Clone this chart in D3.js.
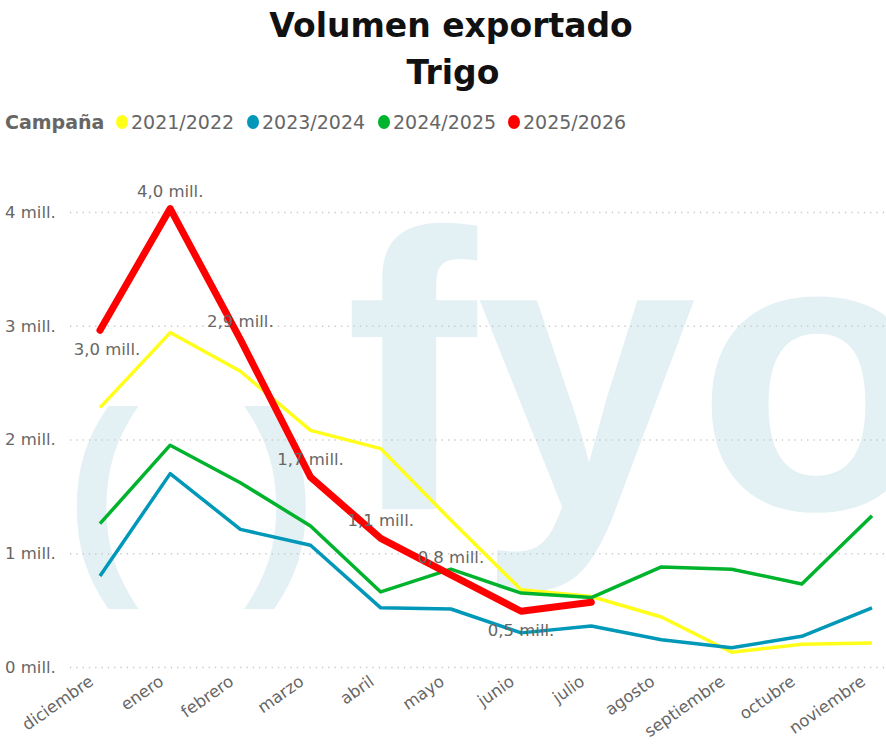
<!DOCTYPE html>
<html>
<head>
<meta charset="utf-8">
<script src="https://cdn.jsdelivr.net/npm/d3@7"></script>
<style>
  html, body { margin: 0; padding: 0; background: #fff; }
  svg { display: block; }
</style>
</head>
<body>
<svg id="chart" width="886" height="749"></svg>
<script>
'use strict';

// Data (millones de toneladas)
const MONTHS = ['diciembre', 'enero', 'febrero', 'marzo', 'abril', 'mayo',
  'junio', 'julio', 'agosto', 'septiembre', 'octubre', 'noviembre'];

const SERIES_NAMES = ['2021/2022', '2023/2024', '2024/2025', '2025/2026'];

const V_2021_2022 = [2.28, 2.94, 2.60, 2.08, 1.92, 1.29, 0.68, 0.62, 0.44, 0.13, 0.20, 0.21];
const V_2023_2024 = [0.80, 1.70, 1.21, 1.07, 0.52, 0.51, 0.30, 0.36, 0.24, 0.17, 0.27, 0.52];
const V_2024_2025 = [1.26, 1.95, 1.62, 1.24, 0.66, 0.86, 0.65, 0.61, 0.88, 0.86, 0.73, 1.33];
const V_2025_2026 = [2.96, 4.03, 2.88, 1.67, 1.13, 0.81, 0.49, 0.57];

// Etiquetas de datos de la campaña actual
const LABELS_2025_2026 = ['3,0 mill.', '4,0 mill.', '2,9 mill.', '1,7 mill.',
  '1,1 mill.', '0,8 mill.', '0,5 mill.', null];

const Y_TICKS = [0, 1, 2, 3, 4];

const COLORS = {
  '2021/2022': '#ffff1a',
  '2023/2024': '#0098b8',
  '2024/2025': '#00b32d',
  '2025/2026': '#ff0000',
};

const seriesValues = [V_2021_2022, V_2023_2024, V_2024_2025, V_2025_2026];

const FONT = '"DejaVu Sans", Verdana, sans-serif';
const TEXT_GRAY = '#666';
const LABEL_SIZE = 16.5;

const svg = d3.select('#chart');

const x = d3.scalePoint().domain(MONTHS).range([100, 872]);
const y = d3.scaleLinear().domain([0, 4]).range([667, 212]);

// Watermark
const wm = svg.append('g').attr('fill', '#e3f1f5')
  .attr('font-family', '"Liberation Sans", Arial, sans-serif')
  .attr('font-weight', 'bold');
wm.append('text').attr('x', 345).attr('y', 509).attr('font-size', 395).text('fyo');
wm.append('text').attr('x', 66).attr('y', 564).attr('font-size', 218).text('(');
wm.append('text').attr('x', 244).attr('y', 564).attr('font-size', 218).text(')');

// Title
svg.append('text')
  .attr('x', 451).attr('y', 37)
  .attr('text-anchor', 'middle')
  .attr('font-family', FONT).attr('font-weight', 'bold').attr('font-size', 33)
  .attr('fill', '#111')
  .text('Volumen exportado');
svg.append('text')
  .attr('x', 453).attr('y', 84)
  .attr('text-anchor', 'middle')
  .attr('font-family', FONT).attr('font-weight', 'bold').attr('font-size', 33)
  .attr('fill', '#111')
  .text('Trigo');

// Legend
const legend = svg.append('g').attr('font-family', FONT).attr('font-size', 19);
legend.append('text')
  .attr('x', 5).attr('y', 129)
  .attr('font-weight', 'bold').attr('fill', TEXT_GRAY)
  .text('Campaña');
const legendX = [122, 253, 384, 514];
SERIES_NAMES.forEach((name, i) => {
  legend.append('ellipse')
    .attr('cx', legendX[i]).attr('cy', 122)
    .attr('rx', 6).attr('ry', 7)
    .attr('fill', COLORS[name]);
  legend.append('text')
    .attr('x', legendX[i] + 9).attr('y', 129)
    .attr('fill', TEXT_GRAY)
    .text(name);
});

// Grid + y axis
const yAxis = d3.axisLeft(y)
  .tickValues(Y_TICKS)
  .tickSize(-(886 - 70))
  .tickFormat(d => `${d} mill.`);

const gy = svg.append('g')
  .attr('transform', 'translate(70,0)')
  .call(yAxis);
gy.select('.domain').remove();
gy.selectAll('.tick line')
  .attr('stroke', '#c8c8c8')
  .attr('stroke-width', 1.3)
  .attr('stroke-dasharray', '1.3,5');
gy.selectAll('.tick text')
  .attr('x', -65)
  .attr('text-anchor', 'start')
  .attr('font-family', FONT)
  .attr('font-size', LABEL_SIZE)
  .attr('fill', TEXT_GRAY);

// x axis
const gx = svg.append('g')
  .attr('transform', 'translate(0,667)')
  .call(d3.axisBottom(x).tickSize(0));
gx.select('.domain').remove();
gx.selectAll('.tick text')
  .attr('font-family', FONT)
  .attr('font-size', LABEL_SIZE)
  .attr('fill', TEXT_GRAY)
  .attr('text-anchor', 'end')
  .attr('dy', null)
  .attr('y', 0)
  .attr('transform', 'translate(-6,17) rotate(-35)');

// Lines
const line = d3.line()
  .x((d, i) => x(MONTHS[i]))
  .y(d => y(d));

SERIES_NAMES.forEach((name, i) => {
  svg.append('path')
    .datum(seriesValues[i])
    .attr('fill', 'none')
    .attr('stroke', COLORS[name])
    .attr('stroke-width', name === '2025/2026' ? 7 : 3.5)
    .attr('stroke-linejoin', 'round')
    .attr('stroke-linecap', name === '2025/2026' ? 'round' : 'butt')
    .attr('d', line);
});

// Data labels for 2025/2026
const below = i => i === 0 || i === 6;
svg.append('g')
  .attr('font-family', FONT)
  .attr('font-size', LABEL_SIZE)
  .attr('fill', TEXT_GRAY)
  .attr('text-anchor', 'middle')
  .selectAll('text')
  .data(V_2025_2026.map((v, i) => ({ v, i, label: LABELS_2025_2026[i] })).filter(d => d.label))
  .join('text')
  .attr('x', d => x(MONTHS[d.i]) + (d.i === 0 ? 7 : 0))
  .attr('y', d => y(d.v) + (below(d.i) ? 25 : -12))
  .text(d => d.label);
</script>
</body>
</html>
